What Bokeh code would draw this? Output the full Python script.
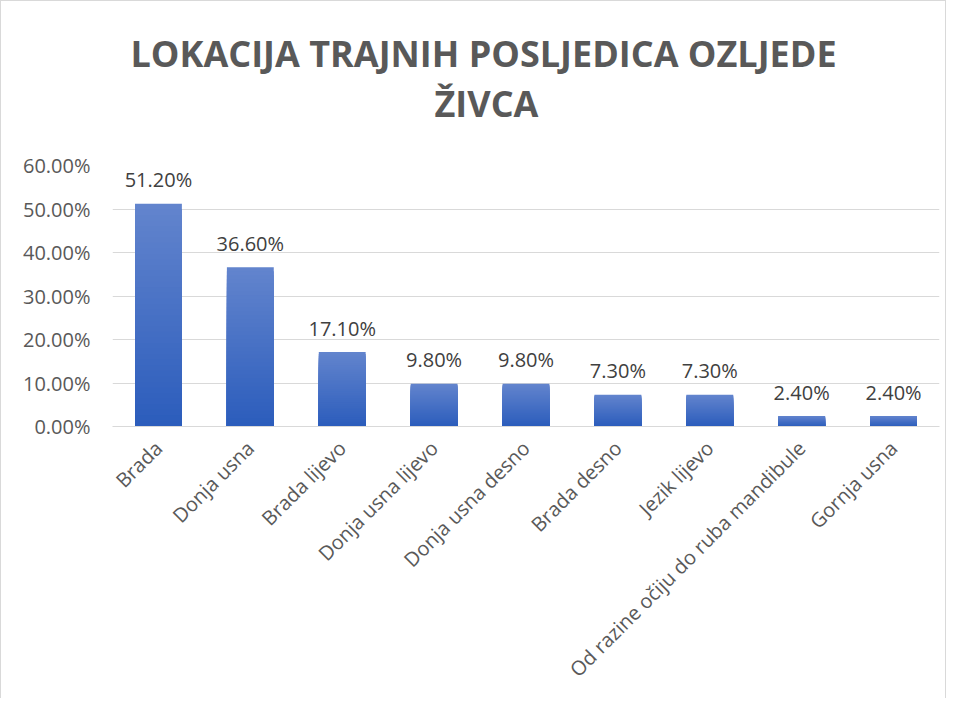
from bokeh.plotting import figure
from bokeh.models import ColumnDataSource, LabelSet, NumeralTickFormatter, FixedTicker, Title
from bokeh.embed import file_html
from bokeh.resources import INLINE
from bokeh.core.properties import value
import math

categories = ["Brada", "Donja usna", "Brada lijevo", "Donja usna lijevo", "Donja usna desno",
              "Brada desno", "Jezik lijevo", "Od razine očiju do ruba mandibule", "Gornja usna"]
values = [0.512, 0.366, 0.171, 0.098, 0.098, 0.073, 0.073, 0.024, 0.024]
y_ticks = [0.0, 0.1, 0.2, 0.3, 0.4, 0.5, 0.6]
title_line1 = "LOKACIJA TRAJNIH POSLJEDICA OZLJEDE"
title_line2 = "ŽIVCA"

FONT = "Open Sans"
W, H = 946, 698

p = figure(x_range=categories, y_range=(0, 0.6), width=W, height=H, title=None,
           output_backend="svg", toolbar_location=None,
           min_border_left=111, min_border_right=8, min_border_top=164, min_border_bottom=273)
p.styles = {"border-top": "1px solid #d9d9d9",
            "border-left": "1px solid #d9d9d9", "border-right": "1px solid #d9d9d9"}
p.outline_line_color = None
p.background_fill_color = "white"
p.border_fill_color = "white"

# title: two centred lines (line 2 nearer the frame, line 1 above it)
p.add_layout(Title(text=title_line2, align="left", offset=322, standoff=76,
                   text_font=FONT, text_font_style="bold", text_font_size="36px",
                   text_color="#595959"), "above")
p.add_layout(Title(text=title_line1, align="left", offset=18, standoff=-78,
                   text_font=FONT, text_font_style="bold", text_font_size="36px",
                   text_color="#595959"), "above")

# gradient bars (light top -> dark bottom), via layered vbars
top_c = (0x62, 0x84, 0xcd)
bot_c = (0x2c, 0x5d, 0xbc)
K = 40
for k in range(K):
    t = k / (K - 1)
    col = "#%02x%02x%02x" % tuple(int(round(a + (b - a) * t)) for a, b in zip(top_c, bot_c))
    frac = (K - k) / K
    src = ColumnDataSource(dict(x=categories, top=[v * frac for v in values]))
    p.vbar(x="x", top="top", width=0.51, source=src, fill_color=col, line_color=None)

# data labels
lab_src = ColumnDataSource(dict(x=categories, y=values, txt=["%.2f%%" % (v * 100) for v in values]))
p.add_layout(LabelSet(x="x", y="y", text="txt", source=lab_src, y_offset=24,
                      text_align="center", text_baseline="middle",
                      text_font=value(FONT), text_font_size="20px", text_color="#404040"))

# axes
p.yaxis.ticker = FixedTicker(ticks=y_ticks)
p.yaxis.formatter = NumeralTickFormatter(format="0.00%")
p.yaxis.axis_line_color = None
p.yaxis.major_tick_line_color = None
p.yaxis.minor_tick_line_color = None
p.yaxis.major_tick_out = 0
p.yaxis.major_label_standoff = 22
p.yaxis.major_label_text_font = FONT
p.yaxis.major_label_text_font_size = "20px"
p.yaxis.major_label_text_color = "#595959"

p.xaxis.axis_line_color = "#d9d9d9"
p.xaxis.axis_line_width = 1
p.xaxis.major_tick_line_color = None
p.xaxis.minor_tick_line_color = None
p.xaxis.major_tick_out = 0
p.xaxis.major_label_standoff = 18
p.xaxis.major_label_orientation = math.pi / 4
p.xaxis.major_label_text_font = FONT
p.xaxis.major_label_text_font_size = "20px"
p.xaxis.major_label_text_color = "#595959"

p.xgrid.grid_line_color = None
p.ygrid.grid_line_color = "#d9d9d9"
p.ygrid.grid_line_width = 1
p.x_range.range_padding = 0

open("out.html", "w").write(file_html(p, INLINE))
